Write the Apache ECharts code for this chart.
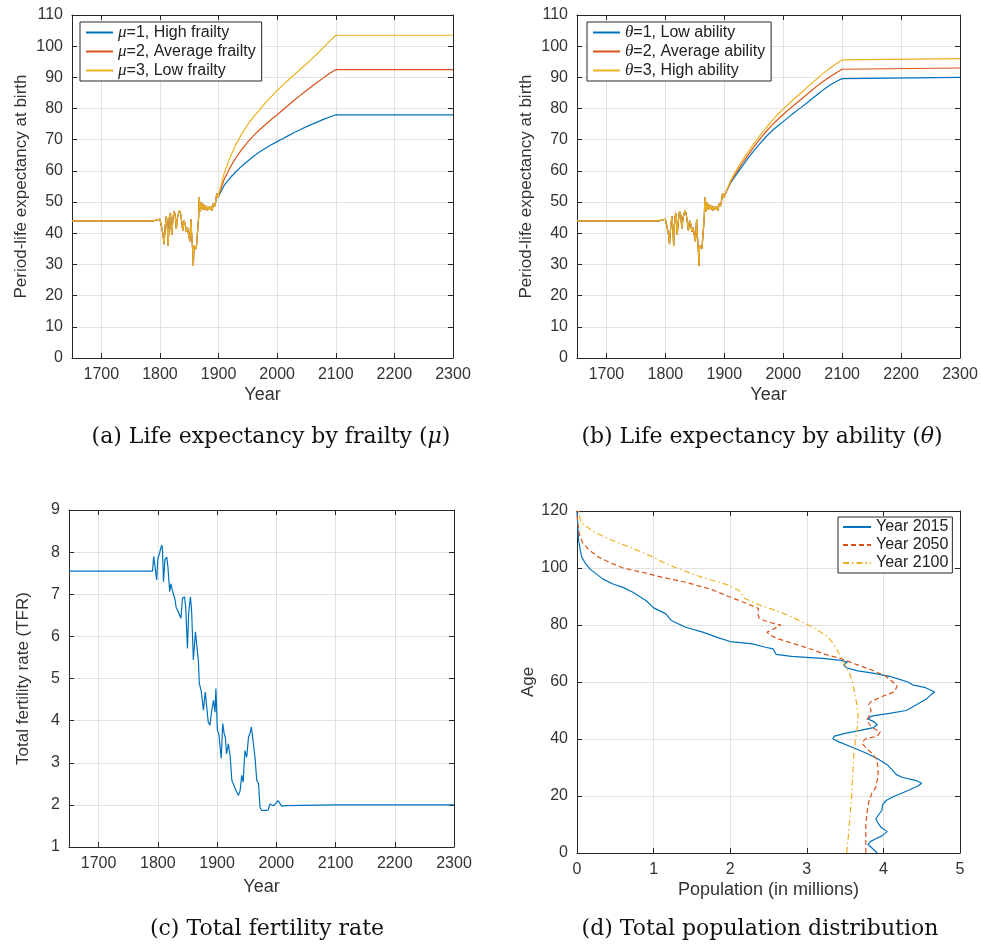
<!DOCTYPE html>
<html><head><meta charset="utf-8">
<script src="https://cdn.jsdelivr.net/npm/echarts/dist/echarts.min.js"></script>
<style>html,body{margin:0;padding:0;background:#fff}#c{width:981px;height:947px}</style>
</head><body><div id="c"></div><script>
// ---------- Data ----------
const yearTicks = [1700, 1800, 1900, 2000, 2100, 2200, 2300];
// Life expectancy history (shared by all groups)
const leHistYears = [1650,1790,1795,1800,1803,1805,1807,1809,1811,1813,1814,1816,1818,1820,1822,1824,1826,1828,1830,1833,1835,1837,1839,1841,1843,1845,1847,1849,1851,1853,1854,1856,1857,1858,1860,1862,1864,1866,1867,1869,1871,1873,1875,1877,1879,1881,1883,1885,1887,1889,1891,1893,1895,1897,1899,1900];
const leHist = [44,44,44.3,44.5,44.2,40,36.5,42,45.5,41,36,45,46.5,39.5,44,47,46,41.5,45,47.2,46.5,44,40.8,44,43,40.5,41.8,39.5,37.4,44.5,40,34.5,29.5,36,35.5,35,34.5,45,51.5,47,50,47.5,49.2,47.5,48.8,47.3,48.5,47.5,48.7,47.2,49.5,48.5,50,52.8,51.5,52];
const leProjYears = [1910,1920,1930,1940,1950,1960,1970,1980,1990,2000,2010,2020,2030,2040,2050,2060,2070,2080,2090,2100,2300];
// (a) by frailty
const leHighFrailty = [55.5,57.8,59.8,61.6,63.2,64.7,66.1,67.3,68.4,69.4,70.4,71.4,72.4,73.3,74.2,75.0,75.8,76.6,77.3,78,78];
const leAvgFrailty = [57.5,61.2,64.3,67,69.3,71.4,73.2,74.9,76.5,78,79.6,81.2,82.8,84.3,85.8,87.2,88.6,90,91.3,92.5,92.5];
const leLowFrailty = [59.5,64.5,68.6,72,74.9,77.4,79.6,81.8,83.8,85.8,87.6,89.3,91,92.7,94.3,96.1,97.9,99.8,101.7,103.5,103.5];
// (b) by ability
const leLowAbility = [56,58.7,61.4,64,66.4,68.7,70.8,72.7,74.3,75.8,77.4,78.9,80.3,81.8,83.3,84.8,86.3,87.6,88.7,89.6,90];
const leAvgAbility = [56.3,59.4,62.3,65,67.6,70.1,72.4,74.5,76.4,78.1,79.8,81.4,82.9,84.5,86.1,87.6,89,90.3,91.5,92.6,93];
const leHighAbility = [56.6,60,63.2,66,68.7,71.2,73.6,75.9,78,79.8,81.6,83.3,85,86.7,88.4,90,91.6,93,94.4,95.6,96];
// (c) TFR
const tfrYears = [1650,1791,1793,1795.5,1798,1800,1803,1805,1807,1808,1809.5,1812,1815,1817,1820,1822,1824,1826,1829,1831,1833,1836,1839,1841.5,1845,1847,1850,1852,1855,1857,1860,1863.5,1866,1868.5,1870,1873,1877,1880,1882.5,1885,1888,1891,1894,1896.5,1898,1900.5,1903,1907,1909.5,1912,1914,1916,1919,1922,1925,1928,1932,1936,1939,1941.5,1944,1947,1950,1953,1955.5,1958,1960,1964,1967,1970,1972.5,1975,1981,1986.5,1989,1992,1995,1999.5,2003,2006,2009,2015,2100,2300];
const tfr = [7.55,7.55,7.9,7.86,7.34,7.85,7.98,8.1,8.17,8.0,7.3,7.82,7.88,7.65,7.06,7.25,7.12,7.02,6.87,6.68,6.63,6.65,6.43,6.9,6.94,6.7,5.71,6.55,6.94,6.6,5.44,6.11,5.75,5.4,4.88,4.72,4.25,4.68,4.33,3.97,3.89,4.25,4.48,4.2,4.76,3.77,3.69,3.1,3.93,3.69,3.6,3.21,3.45,3.17,2.58,2.58,2.34,2.22,2.34,2.7,2.54,3.29,3.13,3.6,3.7,3.85,3.6,3.13,2.58,2.5,1.94,1.87,1.87,1.88,2.02,2.06,1.98,2.04,2.1,2.14,1.97,1.98,2.0,2.0];
// (d) population distribution
const age2015 = [0,1.5,3,4,5,6,7.5,9,10.5,12,13.5,15,17,18.5,20,22,23.5,24.5,25.5,26.5,27.5,29,31,33,35,37,39,40,41,42,43,44,45,46,47,48,49,50,52,54,55.5,56.5,57.2,58,59,60,61,62,63,64,65,66,67,67.6,68.3,69,69.7,71.6,72.2,73.4,74.2,75.4,77.5,79.2,81.6,83.9,86,88.6,91.5,93.2,94.4,96.1,99.6,102,104,106.6,110,115,120];
const pop2015 = [3.92,3.86,3.8,3.83,3.9,3.98,4.05,3.97,3.93,3.9,3.94,3.98,3.99,4.04,4.15,4.33,4.45,4.5,4.42,4.25,4.17,4.12,4.05,3.93,3.78,3.6,3.42,3.34,3.36,3.5,3.7,3.87,3.92,3.88,3.8,3.84,4.08,4.3,4.43,4.56,4.62,4.67,4.69,4.55,4.38,4.32,4.2,4.08,3.88,3.65,3.52,3.48,3.53,3.45,3.2,2.8,2.6,2.56,2.46,2.29,2.0,1.86,1.64,1.42,1.23,1.16,1.0,0.9,0.73,0.6,0.47,0.34,0.17,0.1,0.06,0.04,0.02,0.01,0];
const age2050 = [0,5,10,15,18,21,23,27,30,33,35,37,38.5,40,41,42.5,44,46.5,48,50,52,53,55,56.5,58.5,59.2,60.1,62,64.2,66.5,68.3,69.5,71.2,73.3,75.2,76.5,77.5,78.5,80,81,82.3,84,85.8,87.5,90,92.5,95,96.7,98.5,100,102,104,106.5,109,112,116,120];
const pop2050 = [3.77,3.77,3.77,3.79,3.81,3.85,3.9,3.93,3.93,3.91,3.85,3.77,3.72,3.76,3.92,3.96,3.85,3.78,3.81,3.84,3.81,3.83,3.99,4.14,4.18,4.18,4.12,4.03,3.85,3.61,3.44,3.26,3.09,2.85,2.62,2.52,2.48,2.56,2.66,2.5,2.38,2.36,2.37,2.22,1.98,1.75,1.42,1.12,0.85,0.6,0.42,0.27,0.15,0.07,0.03,0.01,0];
const age2100 = [0,5,10,15,20,25,30,35,40,44,48,52,56,60,63,66,69,72,74,76,78,80,82,84,85.5,87,88.5,89.5,90.5,92,94,97,100,102,104,107,110,113,116,120];
const pop2100 = [3.52,3.54,3.555,3.57,3.585,3.595,3.605,3.615,3.635,3.66,3.67,3.655,3.625,3.595,3.56,3.5,3.44,3.38,3.33,3.27,3.15,3.02,2.87,2.7,2.55,2.38,2.26,2.18,2.16,2.12,1.98,1.6,1.3,1.12,0.98,0.72,0.43,0.2,0.05,0.02];

// ---------- Styling helpers ----------
const C1 = '#0072BD', C2 = '#D95319', C3 = '#EDB120';
const FONT = 'Liberation Sans';
const AX = '#262626';
const grids = [
  {left: 72, top: 15, width: 381, height: 343},
  {left: 577, top: 15, width: 383, height: 343},
  {left: 69, top: 510, width: 385, height: 337},
  {left: 577, top: 511, width: 383, height: 342}
];
function pairs(xs, ys) { return xs.map((x, i) => [x, ys[i]]); }

const xAxes = [], yAxes = [];
function addAxes(g, xcfg, ycfg) {
  const base = (pos, cfg, isX, main) => {
    const a = {
      type: 'value', gridIndex: g, position: pos, min: cfg.min, max: cfg.max,
      axisLine: {show: true, onZero: false, lineStyle: {color: AX, width: 1}},
      axisTick: {show: true, inside: true, length: 5, lineStyle: {color: AX}},
      axisLabel: {show: main, color: '#333', fontFamily: FONT, fontSize: 16, margin: 9,
        formatter: v => String(v)},
      splitLine: {show: main, lineStyle: {color: '#e2e2e2', width: 1}},
    };
    if (cfg.interval != null) a.interval = cfg.interval;
    if (cfg.custom) {
      a.axisTick.customValues = cfg.custom;
      a.axisLabel.customValues = cfg.custom;
    }
    if (main && cfg.name) {
      a.name = cfg.name; a.nameLocation = 'middle'; a.nameGap = cfg.gap;
      a.nameTextStyle = {fontFamily: FONT, fontSize: isX ? 18 : 17, color: '#333'};
      if (!isX) a.nameRotate = 90;
    }
    return a;
  };
  xAxes.push(base('bottom', xcfg, true, true));
  xAxes.push(base('top', xcfg, true, false));
  yAxes.push(base('left', ycfg, false, true));
  yAxes.push(base('right', ycfg, false, false));
}
const yearAx = {min: 1650, max: 2300, custom: yearTicks, name: 'Year', gap: 28};
addAxes(0, yearAx, {min: 0, max: 110, interval: 10, name: 'Period-life expectancy at birth', gap: 42});
addAxes(1, yearAx, {min: 0, max: 110, interval: 10, name: 'Period-life expectancy at birth', gap: 42});
addAxes(2, Object.assign({}, yearAx, {gap: 31}), {min: 1, max: 9, interval: 1, name: 'Total fertility rate (TFR)', gap: 37});
addAxes(3, {min: 0, max: 5, interval: 1, name: 'Population (in millions)', gap: 28}, {min: 0, max: 120, interval: 20, name: 'Age', gap: 40});

function lineSeries(name, g, data, color, type) {
  return {
    name, type: 'line', xAxisIndex: g * 2, yAxisIndex: g * 2, data,
    showSymbol: false, symbol: 'none', animation: false,
    lineStyle: {color, width: 1.2, type: type || 'solid'}, itemStyle: {color}
  };
}
const leSeries = (proj) => pairs(leHistYears, leHist).concat(pairs(leProjYears, proj));

const legendBase = {
  orient: 'vertical', backgroundColor: '#fff', borderColor: AX, borderWidth: 1,
  itemGap: 2, itemHeight: 16,
  itemStyle: {opacity: 0},
  textStyle: {fontFamily: FONT, fontSize: 16, color: '#222',
    rich: {i: {fontFamily: 'Liberation Serif', fontStyle: 'italic', fontSize: 17, color: '#222'}}},
  formatter: n => n.replace(/^(μ|θ)/, '{i|$1}')
};

const option = {
  backgroundColor: '#fff',
  animation: false,
  grid: grids,
  xAxis: xAxes,
  yAxis: yAxes,
  legend: [
    Object.assign({}, legendBase, {left: 80, top: 22, padding: [2, 6, 2, 5], itemWidth: 27,
      data: ['μ=1, High frailty', 'μ=2, Average frailty', 'μ=3, Low frailty']}),
    Object.assign({}, legendBase, {left: 587, top: 22, padding: [2, 6, 2, 5], itemWidth: 27,
      data: ['θ=1, Low ability', 'θ=2, Average ability', 'θ=3, High ability']}),
    Object.assign({}, legendBase, {left: 838, top: 517, padding: [2, 4, 2, 4], itemWidth: 28,
      data: ['Year 2015', 'Year 2050', 'Year 2100']})
  ],
  series: [
    lineSeries('μ=1, High frailty', 0, leSeries(leHighFrailty), C1),
    lineSeries('μ=2, Average frailty', 0, leSeries(leAvgFrailty), C2),
    lineSeries('μ=3, Low frailty', 0, leSeries(leLowFrailty), C3),
    lineSeries('θ=1, Low ability', 1, leSeries(leLowAbility), C1),
    lineSeries('θ=2, Average ability', 1, leSeries(leAvgAbility), C2),
    lineSeries('θ=3, High ability', 1, leSeries(leHighAbility), C3),
    lineSeries('TFR', 2, pairs(tfrYears, tfr), C1),
    lineSeries('Year 2015', 3, pairs(pop2015, age2015), C1),
    lineSeries('Year 2050', 3, pairs(pop2050, age2050), C2, [5, 3]),
    lineSeries('Year 2100', 3, pairs(pop2100, age2100), C3, [6, 3, 1.5, 3])
  ],
  graphic: [
    ['(a) Life expectancy by frailty ({i|μ})', 271, 437],
    ['(b) Life expectancy by ability ({i|θ})', 762, 437],
    ['(c) Total fertility rate', 267, 929],
    ['(d) Total population distribution', 760, 929]
  ].map(([t, x, y]) => ({
    type: 'text', x, y,
    style: {text: t, align: 'center', verticalAlign: 'middle', fill: '#111',
      fontFamily: 'DejaVu Serif', fontSize: 22,
      rich: {i: {fontFamily: 'DejaVu Serif', fontStyle: 'italic', fontSize: 22, fill: '#111'}}}
  }))
};
const chart = echarts.init(document.getElementById('c'), null, {renderer: 'canvas'});
chart.setOption(option);
</script></body></html>
